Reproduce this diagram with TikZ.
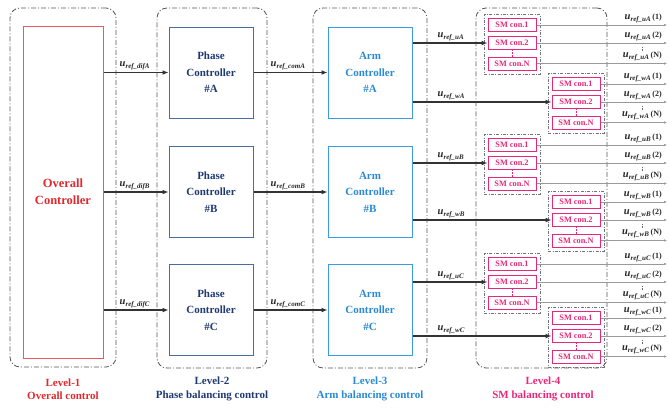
\documentclass[tikz,border=0pt]{standalone}
\usepackage{fontspec}
\setmainfont{Liberation Serif}
\usetikzlibrary{arrows.meta,fit,calc}
\definecolor{cred}{HTML}{DE2A2E}
\definecolor{credb}{HTML}{E85A5E}
\definecolor{cnavy}{HTML}{1F3A72}
\definecolor{cnavyb}{HTML}{4B6C9F}
\definecolor{cblue}{HTML}{2A8AD4}
\definecolor{cblueb}{HTML}{3C9BE0}
\definecolor{cpink}{HTML}{E6287A}
\definecolor{cgray}{HTML}{555555}
\newcommand\uref[1]{{\bfseries\itshape\fontsize{10.5}{10.5}\selectfont u\raisebox{-2pt}{\fontsize{7}{7}\selectfont ref\_#1}}}
\newcommand\uout[2]{\uref{#1}\,{\bfseries\fontsize{8}{8}\selectfont (#2)}}
\begin{document}
\begin{tikzpicture}[x=1pt,y=-1pt,
  lvl/.style={draw=cgray, line width=0.8pt, dash pattern=on 5pt off 2pt on 1pt off 2pt, rounded corners=10pt},
  ctrl/.style={draw, line width=1pt, font=\bfseries\fontsize{11}{16.5}\selectfont, align=center, minimum width=84, minimum height=91, inner sep=0pt},
  sm/.style={draw=cpink, line width=1pt, text=cpink, font=\bfseries\fontsize{8.3}{9}\selectfont, minimum width=48, minimum height=13, inner sep=0pt},
  grp/.style={draw=black!55, dash pattern=on 3pt off 1.5pt on 0.8pt off 1.5pt, line width=0.6pt, inner sep=3.5pt},
  arr/.style={draw=black!80, line width=1.2pt, -{Latex[length=6pt,width=5pt]}},
  outl/.style={draw=black!40, line width=0.5pt, -{Latex[length=3pt,width=2.5pt]}},
  lab/.style={inner sep=1pt, text=black!85},
  bot/.style={align=center, font=\bfseries\fontsize{11}{13.5}\selectfont}]
\useasboundingbox (0,0) rectangle (669,407);
\coordinate (R) at (667,0);
% level frames
\node[lvl, minimum width=106, minimum height=359] (L1) at (63,187.5) {};
\node[lvl, minimum width=110, minimum height=360] (L2) at (212,188) {};
\node[lvl, minimum width=114, minimum height=360] (L3) at (370,188) {};
\node[lvl, minimum width=131, minimum height=360] (L4) at (541.5,188) {};
% level 1
\node[draw=credb, line width=1pt, minimum width=80, minimum height=332, text=cred,
  font=\bfseries\fontsize{12.5}{17}\selectfont, align=center] (oc) at (63,192) {Overall\\Controller};
% level 2 and 3
\foreach \p/\y in {A/72.5,B/192,C/310}{
  \node[ctrl, draw=cnavyb, text=cnavy] (p\p) at (211,\y) {Phase\\Controller\\\#\p};
  \node[ctrl, draw=cblueb, text=cblue] (a\p) at (370,\y) {Arm\\Controller\\\#\p};
  \draw[arr] (p\p.west -| oc.east) -- (p\p.west);
  \path (p\p.west -| oc.east) ++(15,-1) node[lab, anchor=south west] {\uref{dif\p}};
  \draw[arr] (a\p.west -| p\p.east) -- (a\p.west);
  \path (a\p.west -| p\p.east) ++(16,-1) node[lab, anchor=south west] {\uref{com\p}};
}
% level 4
\newcommand\smg[3]{%
  \node[sm] (#1a) at (#2,#3-18) {SM con.1};
  \node[sm] (#1b) at (#2,#3) {SM con.2};
  \node[sm] (#1n) at (#2,#3+20.5) {SM con.N};
  \draw[densely dotted, cpink, line width=0.6pt] (#1b.south) -- (#1n.north);
  \node[grp, fit=(#1a)(#1n)] (#1g) {};
}
\foreach \ph/\yu/\yw in {A/43/102,B/163/220,C/282/336}{
  \smg{u\ph}{512}{\yu}
  \smg{w\ph}{576}{\yw}
  \draw[arr] (u\ph b.west -| a\ph.east) -- (u\ph b.west);
  \path (u\ph b.west -| a\ph.east) ++(24,-1) node[lab, anchor=south west] {\uref{u\ph}};
  \draw[arr] (w\ph b.west -| a\ph.east) -- (w\ph b.west);
  \path (w\ph b.west -| a\ph.east) ++(24,-1) node[lab, anchor=south west] {\uref{w\ph}};
  \foreach \k in {u,w}{
    \draw[outl] (\k\ph a.east) -- (\k\ph a.east -| R) node[lab, anchor=south east, xshift=-4pt, yshift=1pt] {\uout{\k\ph}{1}};
    \draw[outl] (\k\ph b.east) -- (\k\ph b.east -| R) node[lab, anchor=south east, xshift=-4pt, yshift=1pt] {\uout{\k\ph}{2}};
    \draw[outl] (\k\ph n.east) -- (\k\ph n.east -| R) node[lab, anchor=south east, xshift=-4pt, yshift=1pt] {\uout{\k\ph}{N}};
    \draw[densely dotted, black!60, line width=0.6pt] ($(\k\ph b.east -| R)+(-25,4)$) -- ($(\k\ph n.east -| R)+(-25,-13)$);
  }
}
% bottom labels
\node[bot, text=cred] (t1) at (63,389) {Level-1\\Overall control};
\node[bot, text=cnavy] (t2) at (212,389) {Level-2\\Phase balancing control};
\node[bot, text=cblue] (t3) at (370,389) {Level-3\\Arm balancing control};
\node[bot, text=cpink] (t4) at (543,389) {Level-4\\SM balancing control};
\end{tikzpicture}
\end{document}
